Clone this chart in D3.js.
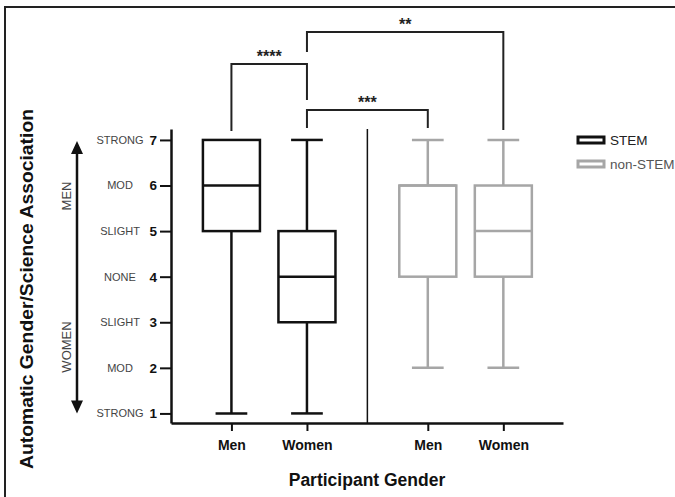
<!DOCTYPE html>
<html>
<head>
<meta charset="utf-8">
<script src="https://cdn.jsdelivr.net/npm/d3@7"></script>
<style>
  body { margin: 0; background: #fff; }
  svg { display: block; font-family: "Liberation Sans", Arial, sans-serif; }
</style>
</head>
<body>
<div id="chart"></div>
<script>
// data
const fields   = ["STEM", "STEM", "non-STEM", "non-STEM"];
const genders  = ["Men", "Women", "Men", "Women"];
const slots    = [1, 2, 3.6, 4.6];       // x positions (gap between the two groups)
const whiskLo  = [1, 1, 2, 2];
const q1       = [5, 3, 4, 4];
const medians  = [6, 4, 6, 5];
const q3       = [7, 5, 6, 6];
const whiskHi  = [7, 7, 7, 7];

const yTicks   = [1, 2, 3, 4, 5, 6, 7];
const yWords   = ["STRONG", "MOD", "SLIGHT", "NONE", "SLIGHT", "MOD", "STRONG"];

// significance brackets: from box i to box j
const compFrom  = [0, 1, 1];
const compTo    = [1, 3, 2];
const compStars = ["****", "**", "***"];

const legendNames = ["STEM", "non-STEM"];

const colors = { "STEM": "#111", "non-STEM": "#a6a6a6" };

const W = 675, H = 497;
const svg = d3.select("#chart").append("svg")
  .attr("width", W).attr("height", H);

// frame (top + left edge only)
svg.append("path")
  .attr("d", `M5,${H} V7 H${W}`)
  .attr("fill", "none").attr("stroke", "#222").attr("stroke-width", 2);

const x = d3.scaleLinear().domain([0.2, 5.39]).range([171, 563]);
const y = d3.scaleLinear().domain([0.79, 7.24]).range([423, 129]);

const boxW = 0.755, capW = 0.42;

// y axis
const yAxis = svg.append("g")
  .attr("transform", `translate(${x(0.2)},0)`)
  .call(d3.axisLeft(y).tickValues(yTicks).tickSize(11).tickSizeOuter(0).tickPadding(3).tickFormat(d3.format("d")));
yAxis.select(".domain").attr("stroke", "#111").attr("stroke-width", 2.5);
yAxis.selectAll(".tick line").attr("stroke", "#111").attr("stroke-width", 2);
yAxis.selectAll(".tick text")
  .attr("font-size", 13.5).attr("font-weight", "bold").attr("fill", "#111")
  .attr("font-family", "Liberation Sans, Arial, sans-serif");

// descriptor words
svg.append("g").selectAll("text").data(yTicks).join("text")
  .attr("x", 120).attr("y", d => y(d)).attr("dy", "0.36em")
  .attr("text-anchor", "middle").attr("font-size", 11).attr("fill", "#444")
  .text((d, i) => yWords[i]);

// x axis
const xAxis = svg.append("g")
  .attr("transform", `translate(0,${y(0.79)})`)
  .call(d3.axisBottom(x).tickValues(slots).tickSize(8).tickSizeOuter(0).tickPadding(9)
    .tickFormat((d, i) => genders[i]));
xAxis.select(".domain").attr("stroke", "#111").attr("stroke-width", 2.5);
xAxis.selectAll(".tick line").attr("stroke", "#111").attr("stroke-width", 2);
xAxis.selectAll(".tick text")
  .attr("font-size", 14).attr("font-weight", "bold").attr("fill", "#111")
  .attr("font-family", "Liberation Sans, Arial, sans-serif");

// separator between groups
svg.append("line")
  .attr("x1", x(2.8)).attr("x2", x(2.8))
  .attr("y1", y(7.24)).attr("y2", y(0.79))
  .attr("stroke", "#111").attr("stroke-width", 1.5);

// boxes
const boxes = svg.append("g").selectAll("g").data(slots).join("g")
  .attr("fill", "none").attr("stroke-width", 2.5)
  .attr("stroke", (d, i) => colors[fields[i]]);

boxes.append("line")  // lower whisker
  .attr("x1", d => x(d)).attr("x2", d => x(d))
  .attr("y1", (d, i) => y(q1[i])).attr("y2", (d, i) => y(whiskLo[i]));
boxes.append("line")  // upper whisker
  .attr("x1", d => x(d)).attr("x2", d => x(d))
  .attr("y1", (d, i) => y(q3[i])).attr("y2", (d, i) => y(whiskHi[i]));
boxes.append("line")  // lower cap
  .attr("x1", d => x(d - capW / 2)).attr("x2", d => x(d + capW / 2))
  .attr("y1", (d, i) => y(whiskLo[i])).attr("y2", (d, i) => y(whiskLo[i]));
boxes.filter((d, i) => whiskHi[i] > q3[i]).append("line")  // upper cap
  .attr("x1", d => x(d - capW / 2)).attr("x2", d => x(d + capW / 2))
  .attr("y1", d => y(whiskHi[slots.indexOf(d)])).attr("y2", d => y(whiskHi[slots.indexOf(d)]));
boxes.append("rect")
  .attr("fill", "#fff")
  .attr("x", d => x(d - boxW / 2)).attr("width", d => x(d + boxW / 2) - x(d - boxW / 2))
  .attr("y", (d, i) => y(q3[i])).attr("height", (d, i) => y(q1[i]) - y(q3[i]));
boxes.append("line")  // median
  .attr("x1", d => x(d - boxW / 2)).attr("x2", d => x(d + boxW / 2))
  .attr("y1", (d, i) => y(medians[i])).attr("y2", (d, i) => y(medians[i]));

// significance brackets (top, left foot, right foot in px)
const brTop  = [64, 32, 110];
const brLeft = [131, 52, 128];
const brRight = [100, 130, 128];
const brackets = svg.append("g");
compStars.forEach((s, k) => {
  const xa = x(slots[compFrom[k]]), xb = x(slots[compTo[k]]);
  brackets.append("path")
    .attr("d", `M${xa},${brLeft[k]} V${brTop[k]} H${xb} V${brRight[k]}`)
    .attr("fill", "none").attr("stroke", "#222").attr("stroke-width", 2);
  brackets.append("text")
    .attr("x", (xa + xb) / 2).attr("y", brTop[k] - 2)
    .attr("text-anchor", "middle").attr("font-size", 16).attr("font-weight", "bold")
    .attr("fill", "#222").text(s);
});

// men / women arrow
const arrowX = 77, arrTop = y(7) + 1, arrBot = y(1);
svg.append("line")
  .attr("x1", arrowX).attr("x2", arrowX).attr("y1", arrTop + 8).attr("y2", arrBot - 8)
  .attr("stroke", "#111").attr("stroke-width", 2.5);
svg.append("path")
  .attr("d", `M${arrowX},${arrTop} l-6,13 h12 z M${arrowX},${arrBot} l-6,-13 h12 z`)
  .attr("fill", "#111");
[["MEN", 196], ["WOMEN", 347]].forEach(([t, cy]) => {
  svg.append("text")
    .attr("transform", `translate(66,${cy}) rotate(-90)`)
    .attr("text-anchor", "middle").attr("dy", "0.36em")
    .attr("font-size", 13).attr("fill", "#444").text(t);
});

// axis titles
svg.append("text")
  .attr("transform", `translate(27,${289}) rotate(-90)`)
  .attr("text-anchor", "middle").attr("dy", "0.36em")
  .attr("font-size", 17.5).attr("font-weight", "bold").attr("fill", "#111")
  .attr("textLength", 360).attr("lengthAdjust", "spacingAndGlyphs")
  .text("Automatic Gender/Science Association");
svg.append("text")
  .attr("x", 367).attr("y", 480).attr("dy", "0.36em")
  .attr("text-anchor", "middle")
  .attr("font-size", 17.5).attr("font-weight", "bold").attr("fill", "#111")
  .text("Participant Gender");

// legend
const legend = svg.append("g").selectAll("g").data(legendNames).join("g")
  .attr("transform", (d, i) => `translate(578,${140 + i * 24})`);
legend.append("rect")
  .attr("x", 0).attr("y", -3).attr("width", 26).attr("height", 6)
  .attr("fill", "#fff").attr("stroke-width", 3)
  .attr("stroke", d => colors[d]);
legend.append("text")
  .attr("x", 32).attr("dy", "0.36em").attr("font-size", 13.5)
  .attr("fill", (d, i) => i === 0 ? "#222" : "#555")
  .text(d => d);
</script>
</body>
</html>
